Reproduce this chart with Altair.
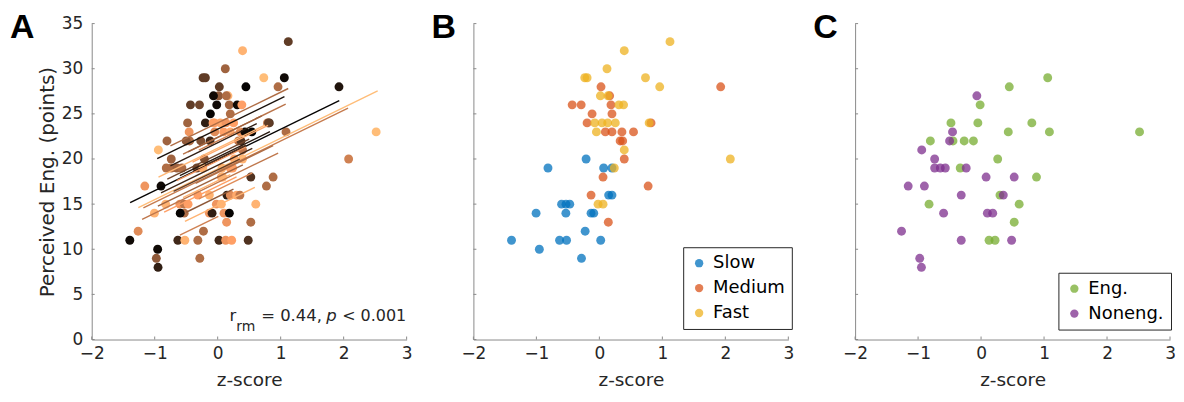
import altair as alt
import pandas as pd

# ---------------- data ----------------
# Panel B (speed conditions)
SLOW_X = [-1.395, -1.005, -0.953, -0.816, -0.632, -0.521, -0.60, -0.53, -0.47, -0.532,
          -0.284, -0.226, -0.211, -0.132, -0.089, 0.021, 0.068, 0.20, 0.147, 0.20]
SLOW_Y = [11, 14, 10, 19, 11, 11, 15, 15, 15, 14, 9, 12, 20, 14, 14, 11, 19, 19, 16, 16]
SLOW_T = [0.05, 0.9, 0.05, 0.55, 0.2, 0.9, 0.75, 0.6, 0.8, 0.55, 0.55, 0.55, 0.4, 0.75,
          0.15, 0.2, 0.9, 0.8, 0.15, 0.7]

MED_X = [0.026, 0.163, -0.432, -0.289, 0.184, 0.20, -0.116, -0.195, 0.82, 0.095, 0.20,
         0.358, 0.542, 0.33, 0.37, 0.395, 0.058, 0.774, -0.132, 0.142, 1.926]
MED_Y = [28, 27, 26, 26, 26, 25, 25, 24, 24, 23, 23, 23, 23, 22, 22, 20, 18, 17, 16, 13, 28]
MED_T = [0.3, 0.9, 0.3, 0.35, 0.5, 0.55, 0.02, 0.15, 0.25, 0.8, 0.85, 0.75, 0.02, 0.6,
         0.25, 0.9, 0.85, 0.55, 0.9, 0.75, 0.1]

FAST_X = [1.121, 0.395, 0.121, -0.232, -0.195, 0.732, 0.958, 0.016, 0.137, 0.31, 0.384,
          -0.074, 0.042, 0.132, 0.253, 0.79, -0.047, 0.395, 0.237, -0.021, 0.058, 2.079]
FAST_Y = [33, 32, 30, 29, 29, 29, 28, 27, 27, 26, 26, 24, 24, 24, 24, 24, 23, 21, 19, 15, 15, 20]
FAST_T = [0.3, 0.9, 0.5, 0.3, 0.3, 0.95, 0.55, 0.45, 0.55, 0.05, 0.8, 0.8, 0.85, 0.75,
          0.8, 0.6, 0.7, 0.6, 0.8, 0.75, 0.9, 0.65]

# Panel C (engagement labels)
ENG_X = [1.058, 0.448, -0.015, -0.478, -0.051, 0.806, 0.432, 1.085, -0.805, -0.446, -0.268,
         -0.121, 0.264, -0.331, 0.88, 0.30, 0.605, -0.826, 0.526, 0.127, 0.222, 2.516]
ENG_Y = [29, 28, 26, 24, 24, 24, 23, 23, 22, 22, 22, 22, 20, 19, 18, 16, 15, 15, 13, 11, 11, 23]
ENG_T = [0.05, 0.02, 0.05, 0.5, 0.8, 0.3, 0.05, 0.55, 0.5, 0.55, 0.4, 0.2, 0.85, 0.35,
         0.55, 0.85, 0.9, 0.9, 0.55, 0.75, 0.8, 0.95]

NON_X = [-0.067, -0.453, -0.50, -0.942, -0.737, -0.737, -0.647, -0.568, -0.236, 0.08, 0.526,
         -1.157, -0.90, -0.315, 0.353, -0.595, 0.10, 0.185, -1.263, -0.315, 0.485, -0.974, -0.947]
NON_Y = [27, 23, 22, 21, 20, 19, 19, 19, 19, 18, 18, 17, 17, 16, 16, 14, 14, 14, 12, 11, 11, 9, 8]
NON_T = [0.05, 0.75, 0.45, 0.95, 0.5, 0.55, 0.5, 0.55, 0.9, 0.9, 0.25, 0.75, 0.05, 0.8,
         0.6, 0.02, 0.75, 0.02, 0.7, 0.55, 0.25, 0.45, 0.15]

# Panel A repeated-measures fit lines (one per participant)
LINE_X0 = [-1.39, -1.26, -1.18, -0.96, -0.75, -0.55, -0.94, -0.60, -1.20, -0.52, -0.60, -0.90, -0.95,
           -0.47, -0.80, -0.65, -0.40, -0.70, -0.30, -0.85, -0.35, -0.50, -0.20, -0.75, -0.55, -0.30]
LINE_X1 = [1.93, 2.54, 2.07, 1.06, 1.12, 1.08, 0.75, 0.83, 0.96, 0.59, 0.01, 0.55, 0.40,
           0.70, 0.50, 0.45, 0.80, 0.35, 0.55, 0.30, 0.88, 0.25, 0.45, 0.62, 0.20, 0.40]
LINE_Y0 = [15.17, 14.62, 14.59, 20.04, 21.45, 20.53, 18.00, 18.16, 13.32, 13.08, 11.56, 16.24, 14.77,
           20.80, 17.78, 17.59, 19.64, 16.42, 15.58, 14.11, 17.31, 14.10, 19.32, 19.25, 15.73, 20.98]
LINE_Y1 = [26.46, 27.54, 25.64, 26.90, 27.81, 26.07, 23.75, 23.02, 20.66, 16.86, 13.63, 21.17, 19.36,
           24.78, 22.20, 21.33, 23.72, 19.99, 18.47, 18.02, 21.49, 16.65, 21.53, 23.91, 18.28, 23.36]
LINE_T = [0.02, 0.95, 0.62, 0.08, 0.55, 0.58, 0.92, 0.12, 0.6, 0.9, 0.65, 0.2, 0.5,
          0.5, 0.35, 0.75, 0.85, 0.3, 0.7, 0.8, 0.55, 0.45, 0.25, 0.15, 0.9, 0.65]

XTICKS = [-2, -1, 0, 1, 2, 3]
YTICKS = [0, 5, 10, 15, 20, 25, 30, 35]

SPEEDS = ["Slow", "Medium", "Fast"]
SPEED_COLORS = ["#0072BD", "#D95319", "#EDB120"]
ENGS = ["Eng.", "Noneng."]
ENG_COLORS = ["#77AC30", "#7E2F8E"]

# ---------------- tables ----------------
df_b = pd.concat([
    pd.DataFrame({"x": SLOW_X, "y": SLOW_Y, "t": SLOW_T, "g": "Slow"}),
    pd.DataFrame({"x": MED_X, "y": MED_Y, "t": MED_T, "g": "Medium"}),
    pd.DataFrame({"x": FAST_X, "y": FAST_Y, "t": FAST_T, "g": "Fast"}),
], ignore_index=True)
df_c = pd.concat([
    pd.DataFrame({"x": ENG_X, "y": ENG_Y, "t": ENG_T, "g": "Eng."}),
    pd.DataFrame({"x": NON_X, "y": NON_Y, "t": NON_T, "g": "Noneng."}),
], ignore_index=True)
df_b["o"] = range(len(df_b))
df_c["o"] = range(len(df_c))
df_a = pd.concat([df_b, df_c], ignore_index=True)
df_a["o"] = range(len(df_a))
df_lines = pd.DataFrame({"x": LINE_X0, "x2": LINE_X1, "y": LINE_Y0, "y2": LINE_Y1, "t": LINE_T})
df_xt = pd.DataFrame({"x": XTICKS})
df_yt = pd.DataFrame({"y": YTICKS})

# ---------------- styling ----------------
W, H = 316, 317
FONT = "DejaVu Sans"
AX = "#8a8a8a"
TX = "#262626"
TICK_FS = 17
XTITLE_FS = 18.5
YTITLE_FS = 20

xs = alt.Scale(domain=[-2, 3], nice=False, zero=False)
ys = alt.Scale(domain=[0, 35], nice=False, zero=False)
copper = alt.Scale(domain=[0, 0.8, 1], range=["#000000", "#ff9f65", "#ffc77f"], interpolate="rgb")


def x_enc():
    return alt.X("x:Q", scale=xs, axis=alt.Axis(
        values=XTICKS, format="d", title="z-score", ticks=False, grid=False, domainColor=AX,
        labelColor=TX, titleColor=TX, labelFontSize=TICK_FS, titleFontSize=XTITLE_FS,
        titleFontWeight="normal", labelPadding=6.5, titlePadding=8.5, labelFont=FONT,
        titleFont=FONT, labelFlush=False))


def y_enc(show):
    if show:
        ax = alt.Axis(values=YTICKS, format="d", title="Perceived Eng. (points)", ticks=False,
                      grid=False, domainColor=AX, labelColor=TX, titleColor=TX,
                      labelFontSize=TICK_FS, titleFontSize=YTITLE_FS, titleFontWeight="normal",
                      labelPadding=9, titlePadding=4, labelFont=FONT, titleFont=FONT,
                      labelFlush=False)
    else:
        ax = alt.Axis(values=YTICKS, title=None, labels=False, ticks=False, grid=False,
                      domainColor=AX)
    return alt.Y("y:Q", scale=ys, axis=ax)


def inner_ticks():
    xt = alt.Chart(df_xt).mark_rule(color=AX, strokeWidth=1).encode(
        x=alt.X("x:Q", scale=xs), y=alt.value(H), y2=alt.value(H - 3))
    yt = alt.Chart(df_yt).mark_rule(color=AX, strokeWidth=1).encode(
        y=alt.Y("y:Q", scale=ys), x=alt.value(0), x2=alt.value(3))
    return [xt, yt]


def letter(ch, dx):
    return alt.Chart(pd.DataFrame({"k": [ch]})).mark_text(
        text=ch, font="Liberation Sans", fontSize=34, fontWeight="bold", color="#000000",
        align="left", baseline="alphabetic").encode(x=alt.value(dx), y=alt.value(14))


def txt(s, dx, dy, size=16.5, style="normal"):
    return alt.Chart(pd.DataFrame({"k": [s]})).mark_text(
        text=s, font=FONT, fontSize=size, fontStyle=style, color=TX,
        align="left", baseline="alphabetic").encode(x=alt.value(dx), y=alt.value(dy))


def legend(x, y):
    return alt.Legend(title=None, orient="none", legendX=x, legendY=y,
                      strokeColor=TX, fillColor="#ffffff", padding=7,
                      labelFontSize=18, labelFont=FONT, labelColor="#000000",
                      symbolType="circle", symbolSize=70, symbolOpacity=0.75,
                      symbolStrokeWidth=0, rowPadding=7, labelOffset=5)


# ---------------- panel A ----------------
pts_a = alt.Chart(df_a).mark_circle(size=80, opacity=1).encode(
    x=x_enc(), y=y_enc(True),
    color=alt.Color("t:Q", scale=copper, legend=None),
    order=alt.Order("o:Q"))
lines_a = alt.Chart(df_lines).mark_rule(strokeWidth=1.4).encode(
    x=alt.X("x:Q", scale=xs), x2="x2:Q", y=alt.Y("y:Q", scale=ys), y2="y2:Q",
    color=alt.Color("t:Q", scale=copper, legend=None))
panel_a = alt.layer(
    pts_a, lines_a, *inner_ticks(), letter("A", -82),
    txt("r", 138.3, 298.5), txt("rm", 145, 308.5, size=14), txt("= 0.44,", 170, 298.5),
    txt("p", 235.3, 298.5, style="italic"), txt("< 0.001", 251.3, 298.5, size=16),
).properties(width=W, height=H)

# ---------------- panel B ----------------
pts_b = alt.Chart(df_b).mark_circle(size=80, opacity=0.75).encode(
    x=x_enc(), y=y_enc(False),
    color=alt.Color("g:N", scale=alt.Scale(domain=SPEEDS, range=SPEED_COLORS),
                    legend=legend(210.5, 224.4)),
    order=alt.Order("o:Q"))
panel_b = alt.layer(pts_b, *inner_ticks(), letter("B", -42)).properties(width=W, height=H)

# ---------------- panel C ----------------
pts_c = alt.Chart(df_c).mark_circle(size=80, opacity=0.75).encode(
    x=x_enc(), y=y_enc(False),
    color=alt.Color("g:N", scale=alt.Scale(domain=ENGS, range=ENG_COLORS),
                    legend=legend(204, 250)),
    order=alt.Order("o:Q"))
panel_c = alt.layer(pts_c, *inner_ticks(), letter("C", -42)).properties(width=W, height=H)

chart = alt.hconcat(panel_a, panel_b, panel_c, spacing=67, bounds="flush").resolve_scale(
    color="independent").resolve_legend(color="independent").configure_view(
    stroke=None).properties(padding={"left": 2, "top": 2, "right": 0, "bottom": 0},
                            background="#ffffff")

chart.save("out.html", embed_options={"renderer": "svg", "actions": False})
